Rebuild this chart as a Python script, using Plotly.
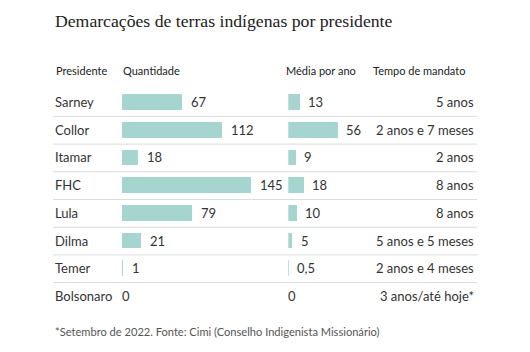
import plotly.graph_objects as go

presidentes = ["Sarney", "Collor", "Itamar", "FHC", "Lula", "Dilma", "Temer", "Bolsonaro"]
quantidade = [67, 112, 18, 145, 79, 21, 1, 0]
media_ano = [13, 56, 9, 18, 10, 5, 0.5, 0]
mandato = ["5 anos", "2 anos e 7 meses", "2 anos", "8 anos", "8 anos",
           "5 anos e 5 meses", "2 anos e 4 meses", "3 anos/até hoje*"]
headers = ["Presidente", "Quantidade", "Média por ano", "Tempo de mandato"]
title = "Demarcações de terras indígenas por presidente"
footer = "*Setembro de 2022. Fonte: Cimi (Conselho Indigenista Missionário)"

W, H = 530, 352
BAR_COLOR = "#a6d5cf"
TXT = "#333333"
FONT = "Lato"
RS = 13

rows = list(range(len(presidentes)))

def fmt(v):
    return f"{v:g}".replace(".", ",")

fig = go.Figure()
fig.add_trace(go.Bar(y=rows, x=quantidade, orientation="h", xaxis="x", yaxis="y",
                     marker=dict(color=BAR_COLOR, line=dict(width=0)), width=0.567,
                     hoverinfo="skip"))
fig.add_trace(go.Bar(y=rows, x=media_ano, orientation="h", xaxis="x2", yaxis="y",
                     marker=dict(color=BAR_COLOR, line=dict(width=0)), width=0.567,
                     hoverinfo="skip"))

ann = []
shapes = []
for i, (p, q, m, t) in enumerate(zip(presidentes, quantidade, media_ano, mandato)):
    ann.append(dict(x=53 / W, xref="paper", y=i, yref="y", text=p, showarrow=False,
                    xanchor="left", yanchor="middle", font=dict(family=FONT, size=RS, color=TXT)))
    ann.append(dict(x=q, xref="x", y=i, yref="y", text=fmt(q), showarrow=False,
                    xanchor="left", yanchor="middle", xshift=(7 if q > 0 else -2),
                    font=dict(family=FONT, size=RS, color=TXT)))
    ann.append(dict(x=m, xref="x2", y=i, yref="y", text=fmt(m), showarrow=False,
                    xanchor="left", yanchor="middle", xshift=(6 if m > 0 else -2),
                    font=dict(family=FONT, size=RS, color=TXT)))
    ann.append(dict(x=476 / W, xref="paper", y=i, yref="y", text=t, showarrow=False,
                    xanchor="right", yanchor="middle", font=dict(family=FONT, size=RS, color=TXT)))
    if i < len(presidentes) - 1:
        shapes.append(dict(type="line", xref="paper", yref="y", x0=53 / W, x1=477 / W,
                           y0=i + 0.52, y1=i + 0.52, line=dict(color="#dcdcdc", width=1)))

hdr_x = [54 / W, 121 / W, 284 / W, 467 / W]
hdr_anchor = ["left", "left", "left", "right"]
for h, x, a in zip(headers, hdr_x, hdr_anchor):
    ann.append(dict(x=x, xref="paper", y=1 - 70 / H, yref="paper", text=h, showarrow=False,
                    xanchor=a, yanchor="middle", font=dict(family=FONT, size=11, color="#222222")))

ann.append(dict(x=53 / W, xref="paper", y=1 - 21 / H, yref="paper", text=title, showarrow=False,
                xanchor="left", yanchor="middle",
                font=dict(family="Liberation Serif", size=17.7, color="#222222")))
ann.append(dict(x=53 / W, xref="paper", y=1 - 331 / H, yref="paper", text=footer, showarrow=False,
                xanchor="left", yanchor="middle", font=dict(family=FONT, size=11.1, color="#555555")))

px_per_unit = 0.89
x1_start, x1_range = 122, 150
x2_start, x2_range = 288.3, 60

fig.update_layout(
    width=W, height=H, margin=dict(l=0, r=0, t=0, b=0),
    paper_bgcolor="white", plot_bgcolor="white", showlegend=False, bargap=0,
    xaxis=dict(domain=[x1_start / W, (x1_start + px_per_unit * x1_range) / W],
               range=[0, x1_range], visible=False, fixedrange=True),
    xaxis2=dict(domain=[x2_start / W, (x2_start + px_per_unit * x2_range) / W],
                range=[0, x2_range], visible=False, anchor="y", fixedrange=True),
    yaxis=dict(domain=[0, 1], range=[(H - 102) / 27.7, -102 / 27.7], visible=False, fixedrange=True),
    annotations=ann, shapes=shapes,
)

fig.write_html("out.html")
